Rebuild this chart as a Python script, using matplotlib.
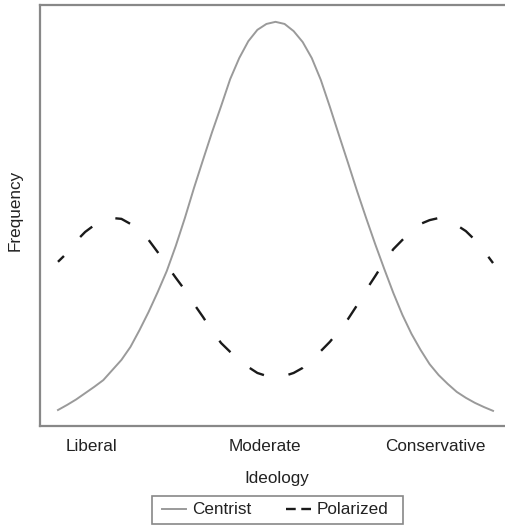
import matplotlib
matplotlib.use("Agg")
import matplotlib.pyplot as plt
from matplotlib.lines import Line2D
from matplotlib.patches import Rectangle

plt.rcParams['font.family'] = ['Liberation Sans', 'DejaVu Sans']
plt.rcParams['lines.scale_dashes'] = False

# ideology score (arbitrary units), frequency in percent of panel height
ideology = [-3.0, -2.875, -2.75, -2.625, -2.5, -2.375, -2.25, -2.125,
            -2.0, -1.875, -1.75, -1.625, -1.5, -1.375, -1.25, -1.125,
            -1.0, -0.875, -0.75, -0.625, -0.5, -0.375, -0.25, -0.125,
            0.0, 0.125, 0.25, 0.375, 0.5, 0.625, 0.75, 0.875,
            1.0, 1.125, 1.25, 1.375, 1.5, 1.625, 1.75, 1.875,
            2.0, 2.125, 2.25, 2.375, 2.5, 2.625, 2.75, 2.875, 3.0]
centrist = [3.8, 5.0, 6.3, 7.8, 9.3, 10.9, 13.3, 15.7,
            18.8, 22.8, 27.1, 31.8, 36.8, 42.8, 49.4, 56.5,
            63.2, 69.8, 76.0, 82.4, 87.4, 91.4, 94.1, 95.5,
            96.0, 95.5, 93.8, 91.2, 87.4, 82.2, 75.8, 69.1,
            62.5, 55.8, 49.4, 43.2, 37.3, 31.6, 26.4, 21.9,
            18.1, 14.7, 12.1, 10.0, 8.1, 6.7, 5.5, 4.5, 3.6]
polarized = [39.0, 41.1, 43.9, 46.1, 47.7, 48.7, 49.4, 49.2,
             48.0, 46.3, 44.2, 41.3, 38.2, 35.2, 32.3, 29.0,
             25.9, 22.6, 19.7, 17.6, 15.7, 14.0, 12.6, 11.9,
             11.6, 11.9, 12.6, 13.8, 15.7, 17.8, 20.0, 22.6,
             25.4, 28.7, 32.3, 35.6, 39.0, 42.0, 44.2, 46.3,
             48.0, 48.9, 49.4, 48.7, 47.7, 46.3, 44.2, 41.6, 38.7]

tick_pos = [-2.54, -0.14, 2.21]
tick_labels = ['Liberal', 'Moderate', 'Conservative']
series_names = ['Centrist', 'Polarized']

fig = plt.figure(figsize=(5.05, 5.26), dpi=100)
ax = fig.add_axes([0.0792, 0.1901, 0.9228, 0.8004])

ax.plot(ideology, centrist, color='#9a9a9a', lw=1.4)
ax.plot(ideology, polarized, color='#1a1a1a', lw=1.7,
        linestyle=(5.5, (11.5, 18)), dash_capstyle='butt')

ax.set_xlim(-3.248, 3.179)
ax.set_ylim(0, 100)
ax.set_yticks([])
ax.set_xticks(tick_pos)
ax.set_xticklabels(tick_labels, fontsize=12.3, color='#222222')
ax.tick_params(axis='x', length=0, pad=9)

for side in ['left', 'top', 'bottom']:
    ax.spines[side].set_color('#888888')
    ax.spines[side].set_linewidth(1.6)
ax.spines['right'].set_visible(False)

fig.text(15 / 505, 1 - 210 / 526, 'Frequency', rotation=90, ha='center',
         va='center', fontsize=12.3, color='#222222')
fig.text(277 / 505, 1 - 478 / 526, 'Ideology', ha='center', va='center',
         fontsize=12.3, color='#222222')

# legend without its own frame, boxed by hand
handles = [Line2D([], [], color='#9a9a9a', lw=1.4),
           Line2D([], [], color='#1a1a1a', lw=1.7, linestyle=(0, (7, 4)))]
fig.legend(handles, series_names, ncol=2, loc='center',
           bbox_to_anchor=(275 / 505, 1 - 510 / 526), fontsize=12.3,
           frameon=False, handlelength=1.45, handletextpad=0.35,
           columnspacing=2.0, borderpad=0.3, labelcolor='#222222')
fig.patches.append(Rectangle((152 / 505, 1 - 524 / 526), 251 / 505, 28 / 526,
                             transform=fig.transFigure, fill=False,
                             edgecolor='#888888', lw=1.2))

fig.savefig('out.png', dpi=100)
